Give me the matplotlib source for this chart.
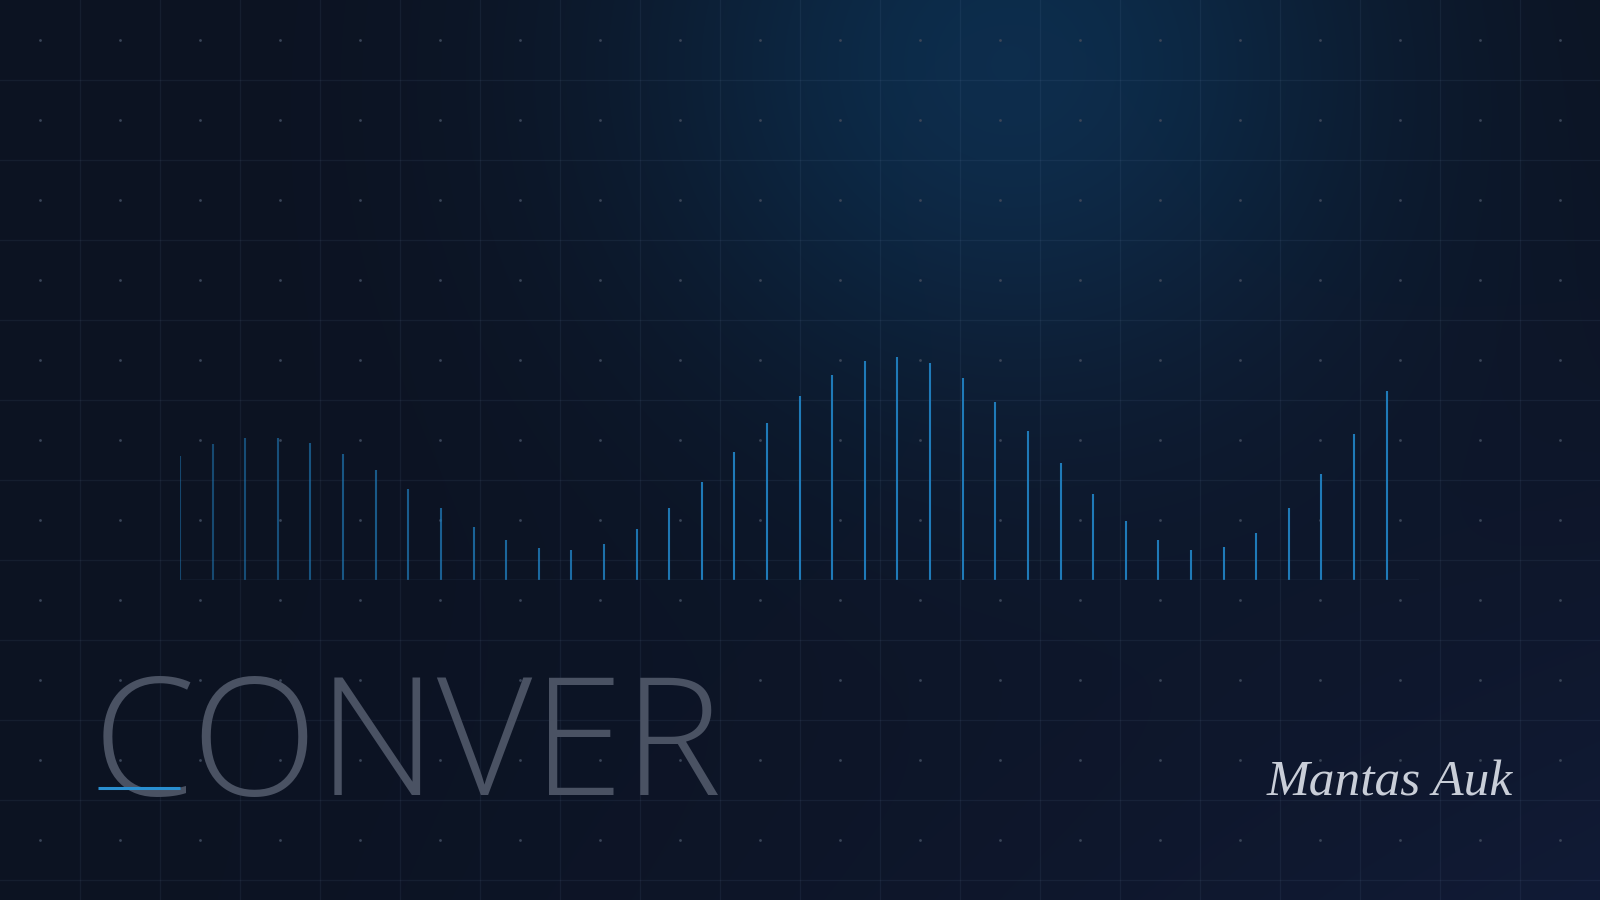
import numpy as np
import matplotlib
matplotlib.use("Agg")
import matplotlib.pyplot as plt
from matplotlib import font_manager
from matplotlib.colors import to_rgb

# heights of the thin bars, left to right (pixel-ish units)
values = [124, 136, 142, 142, 137, 126, 110, 91, 72, 53, 40, 32, 30, 36, 51,
          72, 98, 128, 157, 184, 205, 219, 223, 217, 202, 178, 149, 117, 86, 59,
          40, 30, 33, 47, 72, 106, 146, 189]
title = "CONVER"
signature = "Mantas Auk"


def light_font(families):
    # look for a thin, normal-width weight of one of the installed families
    for fam in families:
        for f in font_manager.fontManager.ttflist:
            w = f.weight if isinstance(f.weight, int) else 400
            if (f.name == fam and w <= 300 and f.style == "normal"
                    and f.stretch == "normal" and "ondensed" not in f.fname):
                return font_manager.FontProperties(fname=f.fname)
    return font_manager.FontProperties(family="Open Sans")


W, H = 1600, 900
fig = plt.figure(figsize=(16, 9), dpi=100)

# background: dark navy with a soft glow near the top
bg = fig.add_axes([0, 0, 1, 1])
yy, xx = np.mgrid[0:H, 0:W]
base = np.array(to_rgb("#0c1322"))
glow = np.array(to_rgb("#0d2d4c")) - base
low = np.array(to_rgb("#111b36")) - base
g = np.exp(-(((xx - 1010) / 370.0) ** 2 + ((yy - 60) / 340.0) ** 2))
g2 = np.clip((xx / W) * (yy / H), 0, 1) ** 1.5
img = base + g[..., None] * glow + g2[..., None] * low
bg.imshow(img, extent=(0, W, H, 0), aspect="auto", zorder=0)
bg.set_xlim(0, W)
bg.set_ylim(H, 0)
bg.axis("off")

# grid lines and dots
for gx in np.arange(80, W, 80):
    bg.axvline(gx, color="#8aa6d0", alpha=0.08, lw=0.9, zorder=1)
for gy in np.arange(80, H, 80):
    bg.axhline(gy, color="#8aa6d0", alpha=0.08, lw=0.9, zorder=1)
dx, dy = np.meshgrid(np.arange(40, W, 80), np.arange(40, H, 80))
bg.scatter(dx.ravel(), dy.ravel(), s=4, color="#3a4558", lw=0, zorder=2)

# big title and underline
fp = light_font(["Open Sans", "Lato", "Roboto", "Inter", "Noto Sans"])
fp.set_size(119)
bg.text(93, 795, title, fontproperties=fp, color="#4a5263",
        ha="left", va="baseline", zorder=3)
bg.plot([98, 180], [788, 788], color="#2a8fd0", lw=2.2, solid_capstyle="butt", zorder=4)

# signature
bg.text(1390, 795, signature, fontsize=37, family=["Liberation Serif", "DejaVu Serif"],
        style="italic", color="#c9ced8", ha="center", va="baseline", zorder=3)

# bar chart
ax = fig.add_axes([180 / W, 320 / H, (1419.3 - 180) / W, 260 / H])
ax.patch.set_alpha(0)
x = np.arange(len(values))
alphas = np.clip(0.5 + x / 16 * 0.5, 0.5, 1.0)
for xi, v, a in zip(x, values, alphas):
    ax.vlines(xi, 0, v, color="#1f7ab8", lw=1.5, alpha=a)
ax.plot([0, len(values)], [0, 0], color="#2a3a52", lw=1.0)
ax.set_xlim(0, len(values))
ax.set_ylim(0, 260)
ax.axis("off")

fig.savefig("out.png", dpi=100)
